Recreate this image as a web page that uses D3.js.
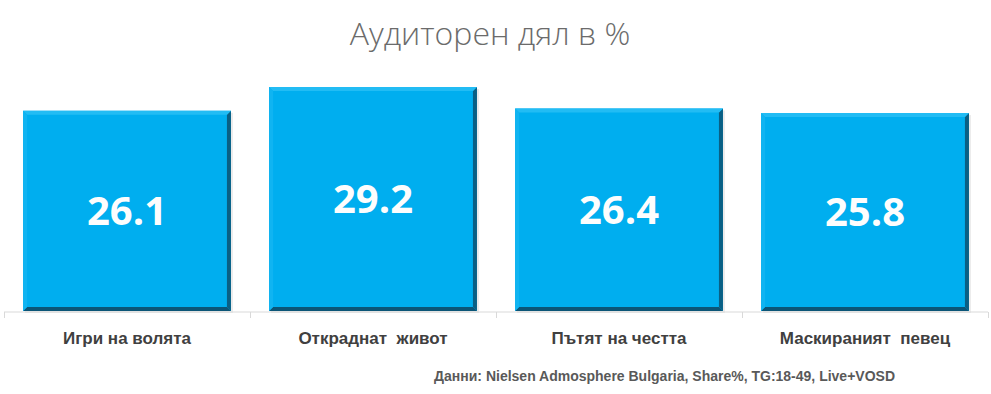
<!DOCTYPE html>
<html>
<head>
<meta charset="utf-8">
<script src="https://d3js.org/d3.v7.min.js"></script>
<style>
  body { margin: 0; background: #fff; }
  text { white-space: pre; }
</style>
</head>
<body>
<svg id="chart"></svg>
<script>
// chart data
var shows = ["Игри на волята", "Откраднат  живот", "Пътят на честта", "Маскираният  певец"];
var shares = [26.1, 29.2, 26.4, 25.8];
var title = "Аудиторен дял в %";
var source = "Данни: Nielsen Admosphere Bulgaria, Share%, TG:18-49, Live+VOSD";

var width = 991, height = 394;
var margin = {top: 0, right: 3, bottom: 83, left: 4};

var svg = d3.select("#chart")
    .attr("width", width)
    .attr("height", height);

var x = d3.scaleBand()
    .domain(shows)
    .range([margin.left, width - margin.right])
    .paddingInner(0.155)
    .paddingOuter(0.0775);

var y = d3.scaleLinear()
    .domain([0, 29.2])
    .range([height - margin.bottom, 87]);

// title
svg.append("text")
    .attr("x", 490)
    .attr("y", 45)
    .attr("text-anchor", "middle")
    .style("font-family", "'Open Sans', sans-serif")
    .style("font-weight", 300)
    .style("font-size", "32px")
    .style("fill", "#6b6b6b")
    .text(title);

// bars with bevelled edges
var bev = 4;
var bars = svg.selectAll(".bar")
    .data(shows)
    .enter().append("g")
    .attr("class", "bar");

bars.append("rect")
    .attr("x", function(d) { return x(d) + 2; })
    .attr("y", function(d, i) { return y(shares[i]) + 2; })
    .attr("width", x.bandwidth())
    .attr("height", function(d, i) { return y(0) - y(shares[i]); })
    .style("fill", "#d8d8d8")
    .style("opacity", 0.5);

bars.append("rect")
    .attr("x", function(d) { return x(d); })
    .attr("y", function(d, i) { return y(shares[i]); })
    .attr("width", x.bandwidth())
    .attr("height", function(d, i) { return y(0) - y(shares[i]); })
    .style("fill", "#00aeef");

// right edge
bars.append("polygon")
    .attr("points", function(d, i) {
      var x0 = x(d), x1 = x0 + x.bandwidth(), y0 = y(shares[i]), y1 = y(0);
      return [[x1 - bev, y0 + bev], [x1, y0], [x1, y1], [x1 - bev, y1 - bev]].join(" ");
    })
    .style("fill", "#0a5f84");

// bottom edge
bars.append("polygon")
    .attr("points", function(d, i) {
      var x0 = x(d), x1 = x0 + x.bandwidth(), y1 = y(0);
      return [[x0, y1], [x0 + bev, y1 - bev], [x1 - bev, y1 - bev], [x1, y1]].join(" ");
    })
    .style("fill", "#0b5577");

// top edge
bars.append("polygon")
    .attr("points", function(d, i) {
      var x0 = x(d), x1 = x0 + x.bandwidth(), y0 = y(shares[i]);
      return [[x0, y0], [x1, y0], [x1 - bev, y0 + bev], [x0 + bev, y0 + bev]].join(" ");
    })
    .style("fill", "#22bcf4");

// left edge
bars.append("polygon")
    .attr("points", function(d, i) {
      var x0 = x(d), y0 = y(shares[i]), y1 = y(0);
      return [[x0, y0], [x0 + bev, y0 + bev], [x0 + bev, y1 - bev], [x0, y1]].join(" ");
    })
    .style("fill", "#10b4f1");

// value labels
bars.append("text")
    .attr("x", function(d) { return x(d) + x.bandwidth() / 2; })
    .attr("y", function(d, i) { return (y(shares[i]) + y(0)) / 2; })
    .attr("dy", "0.36em")
    .attr("text-anchor", "middle")
    .style("font-family", "'Open Sans', sans-serif")
    .style("font-weight", "bold")
    .style("font-size", "40px")
    .style("fill", "#fdfdfd")
    .text(function(d, i) { return shares[i].toFixed(1); });

// axis
var axisY = y(0) + 1;
svg.append("line")
    .attr("x1", margin.left).attr("x2", width - margin.right)
    .attr("y1", axisY).attr("y2", axisY)
    .style("stroke", "#d9d9d9");

var edges = shows.map(function(d) { return x(d) - x.step() * x.paddingInner() / 2; });
edges.push(width - margin.right);
edges[0] = margin.left;
svg.selectAll(".tick")
    .data(edges)
    .enter().append("line")
    .attr("class", "tick")
    .attr("x1", function(d) { return Math.round(d) + 0.5; })
    .attr("x2", function(d) { return Math.round(d) + 0.5; })
    .attr("y1", axisY).attr("y2", axisY + 6)
    .style("stroke", "#d9d9d9");

svg.selectAll(".cat")
    .data(shows)
    .enter().append("text")
    .attr("class", "cat")
    .attr("x", function(d) { return x(d) + x.bandwidth() / 2; })
    .attr("y", 344)
    .attr("text-anchor", "middle")
    .style("font-family", "'Liberation Sans', Arial, sans-serif")
    .style("font-weight", "bold")
    .style("font-size", "17px")
    .style("fill", "#404040")
    .text(function(d) { return d; });

// source note
svg.append("text")
    .attr("x", 895)
    .attr("y", 381)
    .attr("text-anchor", "end")
    .style("font-family", "'Liberation Sans', Arial, sans-serif")
    .style("font-weight", "bold")
    .style("font-size", "14px")
    .style("fill", "#595959")
    .text(source);
</script>
</body>
</html>
